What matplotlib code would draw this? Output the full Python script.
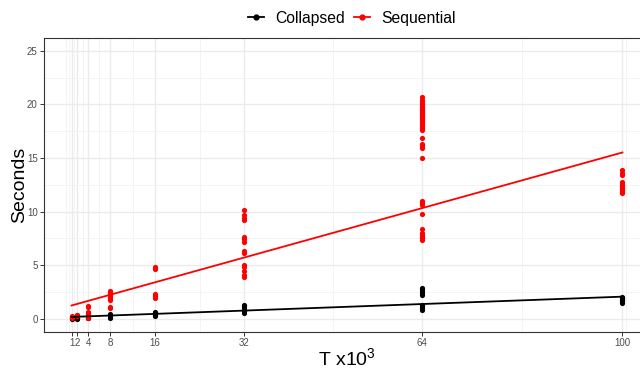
import numpy as np
import matplotlib
matplotlib.use("Agg")
import matplotlib.pyplot as plt
from matplotlib.lines import Line2D

plt.rcParams['font.family'] = ['Liberation Sans', 'DejaVu Sans']
plt.rcParams['mathtext.default'] = 'regular'

# T (x10^3) values and timings
t_values = [1, 2, 4, 8, 16, 32, 64, 100]
# runs behind each T (many overlap on the plot), used for the fitted line
runs_per_t = [28, 28, 28, 28, 28, 28, 39, 50]

seq_times = {
    1: [0.1, 0.15, 0.2],
    2: [0.2, 0.3, 0.35],
    4: [0.05, 0.45, 0.55, 0.65, 1.1, 1.2],
    8: [1.0, 1.05, 1.7, 1.8, 2.0, 2.2, 2.35, 2.45, 2.55],
    16: [1.9, 2.0, 2.1, 2.2, 2.3, 4.6, 4.7, 4.8],
    32: [3.9, 4.1, 4.4, 4.8, 5.0, 6.1, 6.3, 7.2, 7.4, 7.6, 9.2, 9.4, 9.7, 10.1],
    64: [7.3, 7.5, 7.6, 7.8, 8.0, 8.4, 9.8, 10.6, 10.8, 11.0, 15.0, 15.9, 16.1,
         16.3, 16.9, 17.6, 17.8, 18.0, 18.2, 18.4, 18.5, 18.6, 18.7, 18.8, 18.9,
         19.0, 19.1, 19.2, 19.3, 19.4, 19.5, 19.6, 19.7, 19.8, 19.9, 20.0, 20.2,
         20.4, 20.66],
    100: [11.7, 11.8, 11.9, 12.0, 12.1, 12.2, 12.3, 12.4, 12.5, 12.6, 12.8,
          13.4, 13.6, 13.85],
}

col_times = {
    1: [0.0, 0.05, 0.1],
    2: [0.0, 0.05, 0.1],
    4: [0.05, 0.1, 0.15],
    8: [0.1, 0.2, 0.3, 0.4],
    16: [0.2, 0.3, 0.5, 0.6],
    32: [0.5, 0.7, 1.0, 1.2, 1.3],
    64: [0.85, 1.0, 1.2, 1.3, 2.2, 2.4, 2.6, 2.8, 2.9],
    100: [1.5, 1.6, 1.7, 1.8, 1.9, 2.0],
}

series = [("Collapsed", col_times, "black"), ("Sequential", seq_times, "red")]

fig = plt.figure(figsize=(6.4, 3.68), dpi=100)
ax = fig.add_axes([44 / 640, 36 / 368, 606 / 640, 294.5 / 368])

for name, data, color in series:
    xs = np.concatenate([[t] * len(data[t]) for t in t_values])
    ys = np.concatenate([data[t] for t in t_values])
    # each visible point stands for runs/len of the runs at that T
    wts = np.concatenate([[n / len(data[t])] * len(data[t])
                          for t, n in zip(t_values, runs_per_t)])
    ax.scatter(xs, ys, s=14, color=color, linewidths=0, zorder=3)
    slope, intercept = np.polyfit(xs, ys, 1, w=np.sqrt(wts))
    xl = np.array([min(t_values), max(t_values)])
    ax.plot(xl, intercept + slope * xl, color=color, lw=1.3, zorder=4)

ax.set_xlim(-3.95, 104.95)
ax.set_ylim(-1.25, 26.25)
ax.set_xticks(t_values)
ax.set_xticks([0, 0.5, 1.5, 3, 6, 12, 24, 48, 82, 100.7], minor=True)
ax.set_yticks([0, 5, 10, 15, 20, 25])
ax.set_yticks([2.5, 7.5, 12.5, 17.5, 22.5], minor=True)
ax.grid(which='major', color='#EBEBEB', lw=1.0)
ax.grid(which='minor', color='#F2F2F2', lw=0.6)
ax.set_axisbelow(True)
ax.tick_params(which='major', length=3, width=0.7, color='#333333',
               labelsize=7, labelcolor='#4D4D4D', pad=1.5)
ax.tick_params(which='minor', length=0)
for sp in ax.spines.values():
    sp.set_color('#333333')
    sp.set_linewidth(0.8)

ax.set_xlabel(r'T x10$^{3}$', fontsize=14, labelpad=-1)
ax.set_ylabel('Seconds', fontsize=14, labelpad=-1)

handles = [Line2D([], [], color=c, marker='o', markersize=3.5, lw=1.3)
           for _, _, c in series]
fig.legend(handles, [n for n, _, _ in series], loc='center',
           bbox_to_anchor=(0.55, 0.951), ncol=2, frameon=False, fontsize=11.3,
           handlelength=1.0, handletextpad=0.7, columnspacing=0.6)

fig.savefig("out.png", dpi=100)
